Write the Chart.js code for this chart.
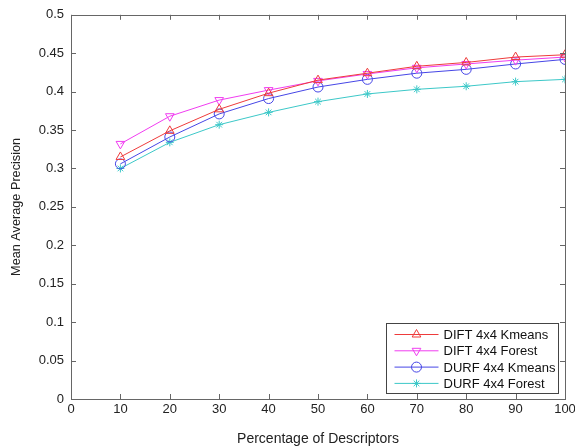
<!DOCTYPE html>
<html>
<head>
<meta charset="utf-8">
<script src="https://cdn.jsdelivr.net/npm/chart.js@4/dist/chart.umd.min.js"></script>
<style>
  html, body { margin:0; padding:0; background:#fff; }
  #wrap { width:575px; height:448px; }
</style>
</head>
<body>
<div id="wrap"><canvas id="chart" width="575" height="448"></canvas></div>
<script>
// --- DATA ---
const percentages = [10, 20, 30, 40, 50, 60, 70, 80, 90, 100];
const diftKmeans  = [0.315, 0.349, 0.377, 0.398, 0.415, 0.424, 0.433, 0.438, 0.445, 0.448];
const diftForest  = [0.332, 0.368, 0.389, 0.402, 0.414, 0.423, 0.431, 0.436, 0.441, 0.445];
const durfKmeans  = [0.306, 0.341, 0.371, 0.391, 0.406, 0.416, 0.424, 0.429, 0.436, 0.442];
const durfForest  = [0.300, 0.334, 0.357, 0.373, 0.387, 0.397, 0.403, 0.407, 0.413, 0.416];
const seriesNames = ['DIFT 4x4 Kmeans', 'DIFT 4x4 Forest', 'DURF 4x4 Kmeans', 'DURF 4x4 Forest'];

const FONT = '"Liberation Sans", Arial, sans-serif';
const AXIS_COL = '#666';

const mk = (label, vals, color, style, rot) => ({
    label: label,
    data: percentages.map((x, i) => ({x: x, y: vals[i]})),
    borderColor: color,
    backgroundColor: 'rgba(0,0,0,0)',
    borderWidth: 1,
    pointStyle: style,
    pointRotation: rot || 0,
    pointRadius: style === 'star' ? 4 : 5,
    pointBorderColor: color,
    pointBackgroundColor: 'rgba(0,0,0,0)',
    pointBorderWidth: 1,
    tension: 0
});

const datasets = [
    mk(seriesNames[0], diftKmeans, '#ee3b3b', 'triangle'),
    mk(seriesNames[1], diftForest, '#f03cf0', 'triangle', 180),
    mk(seriesNames[2], durfKmeans, '#4646e6', 'circle'),
    mk(seriesNames[3], durfForest, '#3cc8c8', 'star')
];

// --- PLUGIN: matlab style box, inward ticks, legend ---
const matlabBox = {
    id: 'matlabBox',
    afterDraw(chart) {
        const {ctx, chartArea: a, scales} = chart;
        ctx.save();
        ctx.strokeStyle = AXIS_COL;
        ctx.lineWidth = 1;
        ctx.strokeRect(Math.round(a.left) + 0.5, Math.round(a.top) + 0.5,
                       Math.round(a.right - a.left), Math.round(a.bottom - a.top));
        const t = 5;
        ctx.beginPath();
        scales.x.ticks.forEach(tk => {
            const px = Math.round(scales.x.getPixelForValue(tk.value)) + 0.5;
            ctx.moveTo(px, a.bottom); ctx.lineTo(px, a.bottom - t);
            ctx.moveTo(px, a.top); ctx.lineTo(px, a.top + t);
        });
        scales.y.ticks.forEach(tk => {
            const py = Math.round(scales.y.getPixelForValue(tk.value)) + 0.5;
            ctx.moveTo(a.left, py); ctx.lineTo(a.left + t, py);
            ctx.moveTo(a.right, py); ctx.lineTo(a.right - t, py);
        });
        ctx.stroke();

        // legend box
        const bw = 172, bh = 70;
        const bx = Math.round(a.right) - 7 - bw + 0.5, by = Math.round(a.bottom) - 6 - bh + 0.5;
        ctx.fillStyle = '#fff';
        ctx.fillRect(bx, by, bw, bh);
        ctx.strokeStyle = '#444';
        ctx.strokeRect(bx, by, bw, bh);
        ctx.font = '13px ' + FONT;
        ctx.textBaseline = 'middle';
        chart.data.datasets.forEach((ds, i) => {
            const y = by + 11 + i * 16.3;
            ctx.strokeStyle = ds.borderColor;
            ctx.lineWidth = 1;
            ctx.beginPath(); ctx.moveTo(bx + 8, y); ctx.lineTo(bx + 52, y); ctx.stroke();
            ctx.fillStyle = 'rgba(0,0,0,0)';
            Chart.helpers.drawPoint(ctx, {
                pointStyle: ds.pointStyle, rotation: ds.pointRotation,
                radius: ds.pointRadius, borderWidth: 1
            }, bx + 30, y);
            ctx.fillStyle = '#111';
            ctx.fillText(ds.label, bx + 57, y + 1);
        });
        ctx.restore();
    }
};

new Chart(document.getElementById('chart'), {
    type: 'line',
    data: { datasets: datasets },
    options: {
        responsive: false,
        animation: false,
        layout: { padding: { left: 0, right: 10, top: 11, bottom: 0 } },
        plugins: { legend: { display: false }, tooltip: { enabled: false } },
        scales: {
            x: {
                type: 'linear', min: 0, max: 100,
                ticks: { stepSize: 10, color: '#222', font: { family: FONT, size: 13 }, padding: 3, maxRotation: 0 },
                grid: { display: false, drawTicks: false },
                border: { display: false },
                title: { display: true, text: 'Percentage of Descriptors', color: '#222',
                         font: { family: FONT, size: 14 }, padding: { top: 4, bottom: 0 } },
                afterFit: (s) => { s.height = 49; s.paddingRight = 0; s.paddingLeft = 0; }
            },
            y: {
                min: 0, max: 0.5,
                ticks: { stepSize: 0.05, color: '#222', font: { family: FONT, size: 13 }, padding: 7,
                         callback: (v) => +v.toFixed(2) + '' },
                grid: { display: false, drawTicks: false },
                border: { display: false },
                title: { display: true, text: 'Mean Average Precision', color: '#222',
                         font: { family: FONT, size: 12.7 }, padding: { top: 9, bottom: 0 } },
                afterFit: (s) => { s.width = 71; }
            }
        }
    },
    plugins: [matlabBox]
});
</script>
</body>
</html>
